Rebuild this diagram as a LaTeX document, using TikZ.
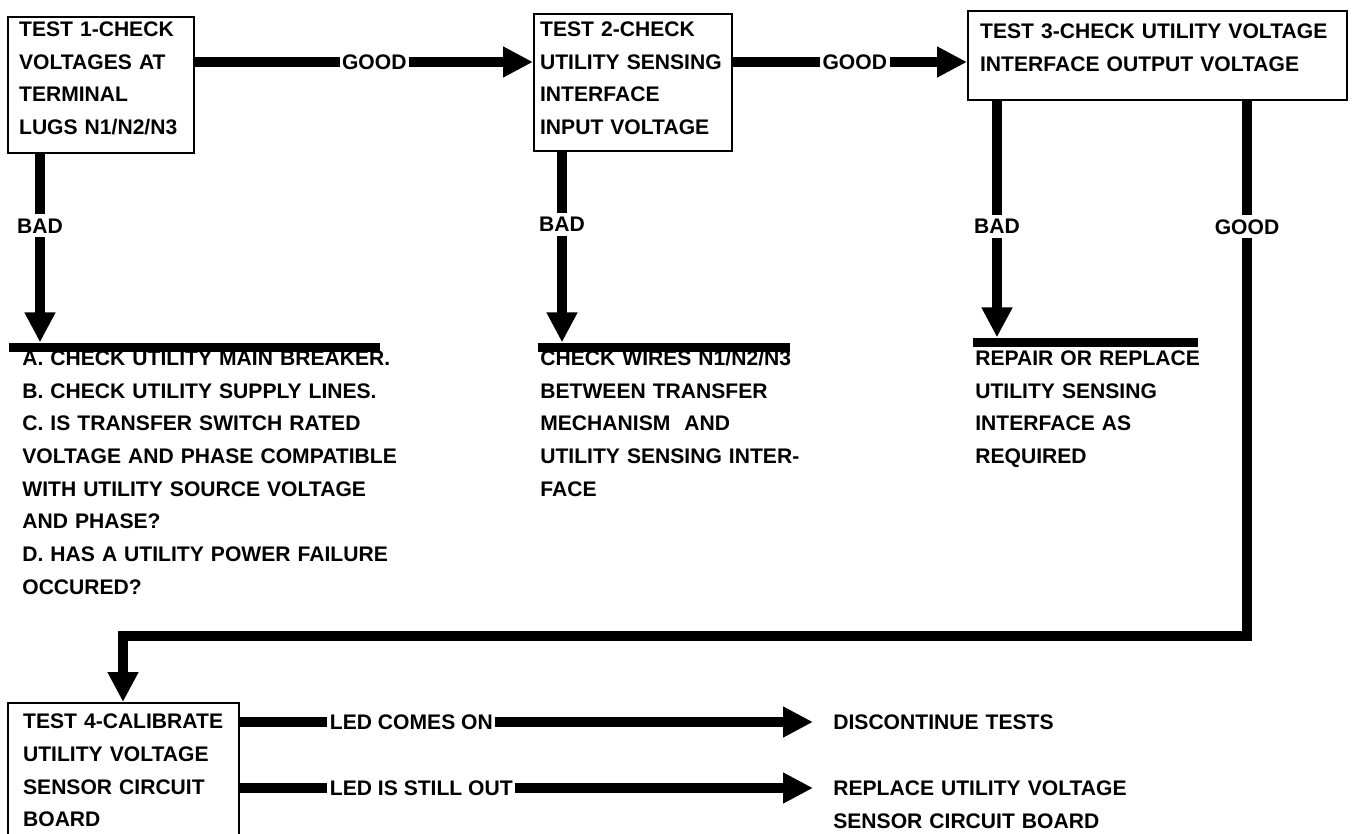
\documentclass[tikz,border=0pt]{standalone}
\usepackage{fontspec}
\setmainfont{Liberation Sans}
\usepackage{xcolor}
\definecolor{cInk}{HTML}{000000}
\usepackage{tikz}
\usetikzlibrary{arrows.meta}
\tikzset{
  test-box/.style={draw=cInk,line width=0.45mm,anchor=north west,
    inner ysep=0pt,align=left},
  note-text/.style={anchor=base west,inner sep=0pt,align=left,text width=#1},
  bar/.style={fill=cInk,inner sep=0pt,minimum height=1.9mm,anchor=west},
  arrow/.style={-{Triangle[length=6mm,width=5.8mm]},line width=1.9mm,draw=cInk},
  arrow-label/.style={fill=white,inner xsep=0.5mm,inner ysep=0.8mm},
  led-label/.style={arrow-label,anchor=west},
}

\begin{document}
\begin{tikzpicture}[x=0.2mm,y=-0.2mm,font=\fontsize{12}{18.6}\selectfont\bfseries]
  \useasboundingbox (0,0) rectangle (1352,834);
  \clip (0,0) rectangle (1352,834);
  % tests
  \node[test-box,inner xsep=2.2mm,text width=32.8mm,text height=3.9mm,text depth=23.3mm]
    (box1) at (7,16) {TEST 1-CHECK\\VOLTAGES AT\\TERMINAL\\LUGS N1/N2/N3};
  \node[test-box,inner xsep=1.2mm,text width=37.2mm,text height=4.5mm,text depth=22.9mm]
    (box2) at (533,13) {TEST 2-CHECK\\UTILITY SENSING\\INTERFACE\\INPUT VOLTAGE};
  \node[test-box,inner xsep=2.4mm,text width=71mm,text height=5.5mm,text depth=12.3mm]
    (box3) at (967,10) {TEST 3-CHECK UTILITY VOLTAGE\\INTERFACE OUTPUT VOLTAGE};
  \node[test-box,inner xsep=3mm,text width=40.2mm,text height=5.1mm,text depth=28.5mm]
    (box4) at (7,702) {TEST 4-CALIBRATE\\UTILITY VOLTAGE\\SENSOR CIRCUIT\\BOARD};
  % results
  \node[bar,minimum width=74.2mm] (bar1) at (9,347.5) {};
  \node[bar,minimum width=50.4mm] (bar2) at (538,347.5) {};
  \node[bar,minimum width=45mm]   (bar3) at (973,342.5) {};
  \node[note-text=80mm] (note1) at (22,365.5)
    {A. CHECK UTILITY MAIN BREAKER.\\B. CHECK UTILITY SUPPLY LINES.\\
     C. IS TRANSFER SWITCH RATED\\VOLTAGE AND PHASE COMPATIBLE\\
     WITH UTILITY SOURCE VOLTAGE\\AND PHASE?\\
     D. HAS A UTILITY POWER FAILURE\\OCCURED?};
  \node[note-text=56mm] (note2) at (540,365.5)
    {CHECK WIRES N1/N2/N3\\BETWEEN TRANSFER\\MECHANISM\ \ AND\\
     UTILITY SENSING INTER-\\FACE};
  \node[note-text=50mm] (note3) at (975,365.5)
    {REPAIR OR REPLACE\\UTILITY SENSING\\INTERFACE AS\\REQUIRED};
  \node[note-text=50mm] (disc) at (833,729.5) {DISCONTINUE TESTS};
  \node[note-text=64mm] (repl) at (833,795.5)
    {REPLACE UTILITY VOLTAGE\\SENSOR CIRCUIT BOARD};
  % connectors
  \coordinate (good1-out) at ([yshift=-9.2mm]box1.north east);
  \coordinate (good2-out) at ([yshift=-9.8mm]box2.north east);
  \coordinate (bad1-out)  at ([xshift=6.6mm]box1.south west);
  \coordinate (bad2-out)  at ([xshift=5.8mm]box2.south west);
  \coordinate (bad3-out)  at ([xshift=6mm]box3.south west);
  \coordinate (good3-out) at ([xshift=56mm]box3.south west);
  \coordinate (turn) at (123,636);
  \coordinate (disc-in) at ([xshift=-4mm,yshift=1.5mm]disc.base west);
  \coordinate (repl-in) at ([xshift=-4mm,yshift=1.5mm]repl.base west);
  \draw[arrow] (good1-out) -- node[arrow-label,pos=0.53]{GOOD} (good1-out -| box2.west);
  \draw[arrow] (good2-out) -- node[arrow-label,pos=0.52]{GOOD} (good2-out -| box3.west);
  \draw[arrow] (bad1-out) -- node[arrow-label,pos=0.38]{BAD} (bad1-out |- bar1.north);
  \draw[arrow] (bad2-out) -- node[arrow-label,pos=0.38]{BAD} (bad2-out |- bar2.north);
  \draw[arrow] (bad3-out) -- node[arrow-label,pos=0.53]{BAD} (bad3-out |- bar3.north);
  \draw[arrow] (good3-out) -- node[arrow-label,pos=0.235]{GOOD} (good3-out |- turn)
    -- (turn) -- (turn |- box4.north);
  \draw[arrow] (box4.east |- disc-in) -- node[led-label,pos=0.144]{LED COMES ON} (disc-in);
  \draw[arrow] (box4.east |- repl-in) -- node[led-label,pos=0.144]{LED IS STILL OUT} (repl-in);
\end{tikzpicture}
\end{document}
